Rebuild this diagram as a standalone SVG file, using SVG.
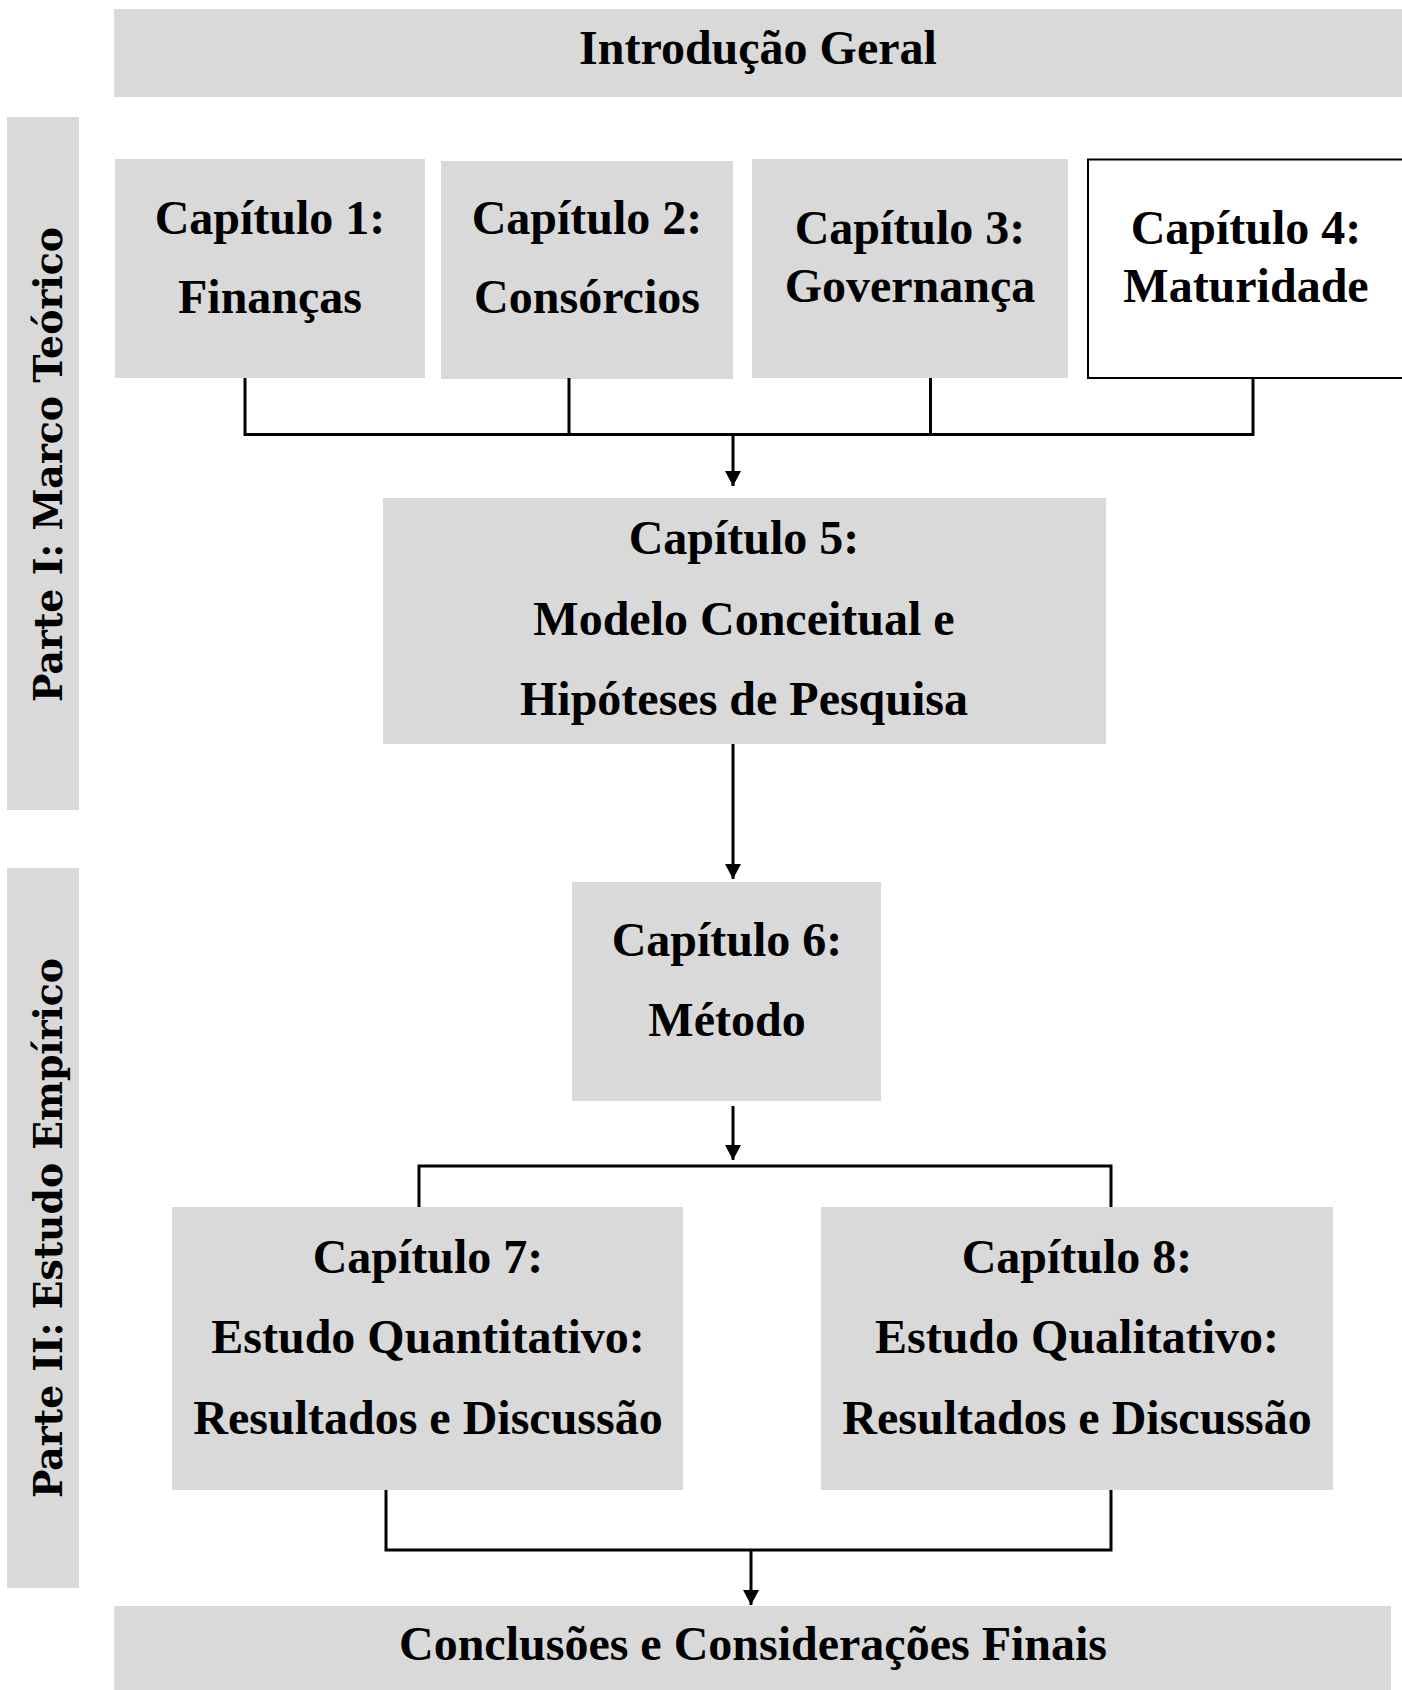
<svg xmlns="http://www.w3.org/2000/svg" width="1402" height="1690" viewBox="0 0 1402 1690">
<defs>
<style>
.box{fill:#d9d9d9;}
.wbox{fill:#ffffff;stroke:#000;stroke-width:2;}
.t{font-family:"Liberation Serif","Times New Roman",serif;font-weight:bold;font-size:48px;fill:#000;text-anchor:middle;}
.v{font-family:"DejaVu Serif",serif;font-weight:bold;font-size:40px;fill:#000;text-anchor:middle;}
.c{fill:none;stroke:#000;stroke-width:3;}
</style>
<marker id="ah" markerUnits="userSpaceOnUse" markerWidth="16" markerHeight="16" viewBox="0 0 16 16" refX="15" refY="8" orient="auto">
<path d="M0,0 L15,8 L0,16 Z" fill="#000"/>
</marker>
</defs>
<rect width="1402" height="1690" fill="#fff"/>

<g id="intro">
<rect class="box" x="114" y="9" width="1288" height="88"/>
<text class="t" x="758" y="64">Introdução Geral</text>
</g>

<g id="parte1">
<rect class="box" x="7" y="117" width="72" height="693"/>
<text class="v" transform="translate(62,464.5) rotate(-90)" x="0" y="0" textLength="475" lengthAdjust="spacingAndGlyphs">Parte I: Marco Teórico</text>
</g>

<g id="parte2">
<rect class="box" x="7" y="868" width="72" height="720"/>
<text class="v" transform="translate(62,1228) rotate(-90)" x="0" y="0" textLength="540" lengthAdjust="spacingAndGlyphs">Parte II: Estudo Empírico</text>
</g>

<g id="cap1">
<rect class="box" x="115" y="159" width="310" height="219"/>
<text class="t" x="270" y="234">Capítulo 1:</text>
<text class="t" x="270" y="313">Finanças</text>
</g>

<g id="cap2">
<rect class="box" x="441" y="161" width="292" height="218"/>
<text class="t" x="587" y="234">Capítulo 2:</text>
<text class="t" x="587" y="313">Consórcios</text>
</g>

<g id="cap3">
<rect class="box" x="752" y="159" width="316" height="219"/>
<text class="t" x="910" y="244">Capítulo 3:</text>
<text class="t" x="910" y="302">Governança</text>
</g>

<g id="cap4">
<rect class="wbox" x="1088" y="159.5" width="318" height="218.5"/>
<text class="t" x="1246" y="244">Capítulo 4:</text>
<text class="t" x="1246" y="302">Maturidade</text>
</g>

<g id="cap5">
<rect class="box" x="383" y="498" width="723" height="246"/>
<text class="t" x="744" y="554">Capítulo 5:</text>
<text class="t" x="744" y="635">Modelo Conceitual e</text>
<text class="t" x="744" y="715">Hipóteses de Pesquisa</text>
</g>

<g id="cap6">
<rect class="box" x="572" y="882" width="309" height="219"/>
<text class="t" x="727" y="956">Capítulo 6:</text>
<text class="t" x="727" y="1036">Método</text>
</g>

<g id="cap7">
<rect class="box" x="172" y="1207" width="511" height="283"/>
<text class="t" x="428" y="1273">Capítulo 7:</text>
<text class="t" x="428" y="1353">Estudo Quantitativo:</text>
<text class="t" x="428" y="1434">Resultados e Discussão</text>
</g>

<g id="cap8">
<rect class="box" x="821" y="1207" width="512" height="283"/>
<text class="t" x="1077" y="1273">Capítulo 8:</text>
<text class="t" x="1077" y="1353">Estudo Qualitativo:</text>
<text class="t" x="1077" y="1434">Resultados e Discussão</text>
</g>

<g id="conclusoes">
<rect class="box" x="114" y="1606" width="1277" height="84"/>
<text class="t" x="753" y="1660">Conclusões e Considerações Finais</text>
</g>

<g id="connectors">
<path class="c" d="M245,378 V434.5 H1253 V378"/>
<path class="c" d="M569,378 V434.5"/>
<path class="c" d="M930.5,378 V434.5"/>
<line class="c" x1="733" y1="434.5" x2="733" y2="486" marker-end="url(#ah)"/>
<line class="c" x1="733" y1="744" x2="733" y2="879" marker-end="url(#ah)"/>
<line class="c" x1="733" y1="1106" x2="733" y2="1160" marker-end="url(#ah)"/>
<path class="c" d="M419,1207 V1166 H1111 V1207"/>
<path class="c" d="M386,1490 V1550 H1111 V1490"/>
<line class="c" x1="751" y1="1550" x2="751" y2="1605" marker-end="url(#ah)"/>
</g>
</svg>
